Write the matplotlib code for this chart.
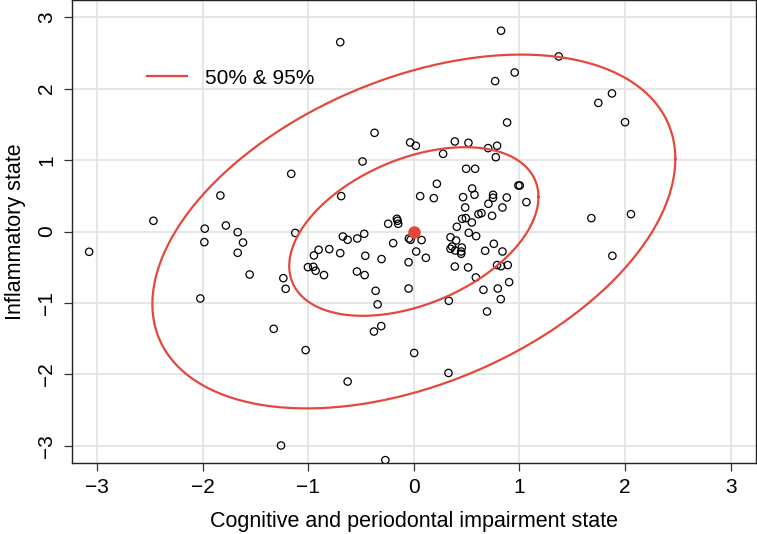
import numpy as np
import matplotlib
matplotlib.use("Agg")
import matplotlib.pyplot as plt

plt.rcParams['font.family'] = ['Liberation Sans', 'DejaVu Sans']

# cognitive/periodontal (x) and inflammatory (y) scores
cog = [-2.466, -1.832, -1.161, -1.98, -1.78, -1.668, -1.123, -0.697, 0.826, 0.955,
       0.77, 0.883, -0.372, -0.035, 0.019, 0.388, 0.517, 0.703, 0.788, 0.776,
       0.277, -0.486, 0.495, 0.58, 0.218, -0.688, 0.06, 0.189, 0.552, 0.574,
       0.466, 0.75, 0.75, 0.88, 0.99, 1.003, 1.066, 0.839, 0.706, 0.486,
       0.457, 0.492, 0.612, 0.64, 0.741, 0.549, 0.407, -0.243, -0.161, -0.154,
       -0.148, -0.47, -0.672, -0.627, -0.536, -0.047, -0.031, 0.073, 0.347, 0.52,
       0.59, 0.4, 1.372, 1.876, 1.747, 2.0, 1.681, 2.056, -3.075, -1.984,
       -1.618, -1.668, -1.003, -1.555, -1.236, -1.214, -2.022, -1.327, -1.025, -1.258,
       -0.196, 0.022, 0.114, -0.05, -0.05, -0.902, -0.801, -0.946, -0.697, -0.952,
       -0.93, -0.851, -0.539, -0.466, -0.46, -0.306, -0.362, -0.343, -0.378, -0.309,
       0.003, -0.627, 0.328, -0.27, 0.362, 0.347, 0.391, 0.454, 0.448, 0.448,
       0.388, 0.514, 0.587, 0.675, 0.757, 0.839, 0.788, 0.826, 0.889, 0.902,
       0.659, 0.795, 0.823, 0.693, 0.331, 1.88]
infl = [0.15, 0.504, 0.807, 0.04, 0.084, -0.01, -0.02, 2.65, 2.81, 2.226,
        2.105, 1.526, 1.381, 1.246, 1.2, 1.26, 1.241, 1.167, 1.2, 1.04,
        1.087, 0.98, 0.878, 0.878, 0.668, 0.495, 0.495, 0.467, 0.602, 0.514,
        0.481, 0.514, 0.472, 0.476, 0.644, 0.644, 0.411, 0.336, 0.388, 0.336,
        0.178, 0.187, 0.243, 0.257, 0.22, 0.126, 0.066, 0.108, 0.178, 0.15,
        0.108, -0.032, -0.07, -0.116, -0.098, -0.098, -0.116, -0.12, -0.08, -0.018,
        -0.065, -0.126, 2.45, 1.932, 1.80, 1.53, 0.187, 0.243, -0.284, -0.149,
        -0.154, -0.298, -0.499, -0.602, -0.653, -0.802, -0.937, -1.362, -1.66, -2.995,
        -0.163, -0.28, -0.368, -0.43, -0.798, -0.256, -0.247, -0.335, -0.303, -0.494,
        -0.55, -0.61, -0.56, -0.61, -0.34, -0.386, -0.83, -1.02, -1.40, -1.324,
        -1.70, -2.10, -1.98, -3.2, -0.21, -0.242, -0.266, -0.224, -0.28, -0.312,
        -0.49, -0.503, -0.643, -0.27, -0.172, -0.28, -0.47, -0.485, -0.47, -0.709,
        -0.816, -0.798, -0.947, -1.12, -0.97, -0.34]

# ellipse parameters (standardised scores)
center = (0.0, 0.0)
corr = 0.41
levels = ["50%", "95%"]
radii = [1.18, 2.476]

red = "#E5483B"

fig = plt.figure(figsize=(7.57, 5.34), dpi=100)
ax = fig.add_axes([71.7 / 757, (534 - 463) / 534, (756 - 71.7) / 757, 463 / 534])

ax.grid(True, color="#e2e2e2", linewidth=1.2)
ax.set_axisbelow(True)

ax.scatter(cog, infl, s=28, facecolors="none", edgecolors="black", linewidths=0.9, zorder=3)

t = np.linspace(0, 2 * np.pi, 300)
for i, r in enumerate(radii):
    ex = center[0] + r * np.cos(t)
    ey = center[1] + r * (corr * np.cos(t) + np.sqrt(1 - corr ** 2) * np.sin(t))
    ax.plot(ex, ey, color=red, linewidth=1.6, zorder=4,
            label="50% & 95%" if i == 0 else None)

ax.plot(center[0], center[1], "o", color=red, markersize=8, zorder=5)

ax.set_xlim(-3.24, 3.24)
ax.set_ylim(-3.24, 3.24)
ticks = [-3, -2, -1, 0, 1, 2, 3]
ax.set_xticks(ticks)
ax.set_yticks(ticks)
ax.set_xticklabels(["\u22123", "\u22122", "\u22121", "0", "1", "2", "3"])
ax.set_yticklabels(["\u22123", "\u22122", "\u22121", "0", "1", "2", "3"],
                   rotation=90, va="center")
ax.tick_params(axis="both", length=6, width=0.9, color="#333333", labelsize=15, pad=5)

for s in ax.spines.values():
    s.set_color("#222222")
    s.set_linewidth(1.0)

ax.set_xlabel("Cognitive and periodontal impairment state", fontsize=15.5, labelpad=10)
ax.set_ylabel("Inflammatory state", fontsize=15.5, labelpad=8)

ax.legend(loc="center left", bbox_to_anchor=((147 - 71.7) / 684.3, 1 - 78 / 463),
          frameon=False, fontsize=15, handlelength=1.9, handletextpad=0.9,
          borderpad=0, borderaxespad=0)

fig.savefig("out.png", dpi=100)
